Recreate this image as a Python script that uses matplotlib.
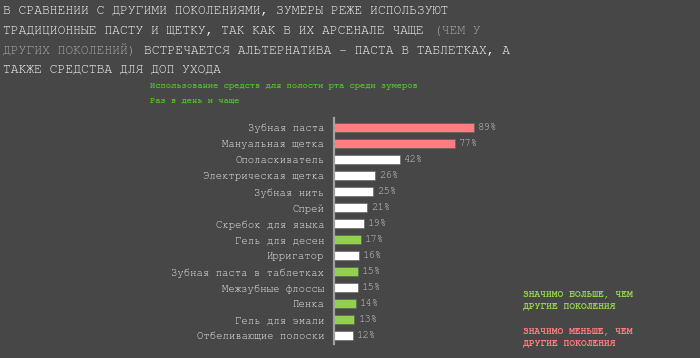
import matplotlib
matplotlib.use("Agg")
import matplotlib.pyplot as plt

# data
categories = [
    "Зубная паста", "Мануальная щетка", "Ополаскиватель", "Электрическая щетка",
    "Зубная нить", "Спрей", "Скребок для языка", "Гель для десен", "Ирригатор",
    "Зубная паста в таблетках", "Межзубные флоссы", "Пенка", "Гель для эмали",
    "Отбеливающие полоски",
]
values = [89, 77, 42, 26, 25, 21, 19, 17, 16, 15, 15, 14, 13, 12]
# "less" = significantly less than other generations, "more" = more, "" = no difference
signif = ["less", "less", "", "", "", "", "", "more", "", "more", "", "more", "more", ""]

# title lines as (text, colour key) segments
title_lines = [
    [("В СРАВНЕНИИ С ДРУГИМИ ПОКОЛЕНИЯМИ, ЗУМЕРЫ РЕЖЕ ИСПОЛЬЗУЮТ", "w")],
    [("ТРАДИЦИОННЫЕ ПАСТУ И ЩЕТКУ, ТАК КАК В ИХ АРСЕНАЛЕ ЧАЩЕ ", "w"), ("(ЧЕМ У", "g")],
    [("ДРУГИХ ПОКОЛЕНИЙ) ", "g"), ("ВСТРЕЧАЕТСЯ АЛЬТЕРНАТИВА – ПАСТА В ТАБЛЕТКАХ, А", "w")],
    [("ТАКЖЕ СРЕДСТВА ДЛЯ ДОП УХОДА", "w")],
]
subtitle = ["Использование средств для полости рта среди зумеров", "Раз в день и чаще"]
legend_more = "ЗНАЧИМО БОЛЬШЕ, ЧЕМ\nДРУГИЕ ПОКОЛЕНИЯ"
legend_less = "ЗНАЧИМО МЕНЬШЕ, ЧЕМ\nДРУГИЕ ПОКОЛЕНИЯ"

BG = "#474747"
RED = "#ff7c80"
GREEN = "#92d050"
colors = {"less": RED, "more": GREEN, "": "#ffffff"}
title_colors = {"w": "#f2f2f2", "g": "#a6a6a6"}

plt.rcParams["font.family"] = ["FreeMono", "Liberation Mono", "DejaVu Sans Mono"]

fig = plt.figure(figsize=(7, 3.58), dpi=100, facecolor=BG)

# title, monospace so every char is 0.6 em wide
title_size = 9.4
char_w = 0.6 * title_size / 72 * 100
for i, segs in enumerate(title_lines):
    y = 1 - (12 + i * 19.5) / 358
    n = 0
    for s, c in segs:
        fig.text((3 + n * char_w) / 700, y, s.rstrip(), color=title_colors[c],
                 fontsize=title_size, va="center", ha="left")
        n += len(s)

fig.text(150 / 700, 1 - 86 / 358, subtitle[0], color="#4dba2c", fontsize=6.3,
         va="center", fontweight="bold")
fig.text(150 / 700, 1 - 101 / 358, subtitle[1], color="#4dba2c", fontsize=6.3,
         va="center", fontweight="bold")

fig.text(523 / 700, 1 - 300 / 358, legend_more, color=GREEN, fontsize=6.9,
         va="center", linespacing=1.3, fontweight="bold")
fig.text(523 / 700, 1 - 337 / 358, legend_less, color=RED, fontsize=6.9,
         va="center", linespacing=1.3, fontweight="bold")

ax = fig.add_axes([334 / 700, 14 / 358, 200 / 700, (344 - 118) / 358])
ax.set_facecolor(BG)
ypos = list(range(len(categories)))
ax.barh(ypos, values, height=0.56, color=[colors[s] for s in signif],
        edgecolor="#5a5a5a", linewidth=0.4)
ax.set_ylim(len(categories) - 1 + 0.5, -0.6)
ax.set_xlim(0, 200 / 1.573)

for y, v in zip(ypos, values):
    ax.text(v + 2.5, y, f"{v}%", color="#c8c8c8", fontsize=7.7, va="center", ha="left")

ax.set_yticks(ypos)
ax.set_yticklabels(categories, color="#e6e6e6", fontsize=7.7)
ax.tick_params(axis="y", length=0, pad=7)
ax.set_xticks([])
for side in ["top", "right", "bottom"]:
    ax.spines[side].set_visible(False)
ax.spines["left"].set_color("#a0a0a0")
ax.spines["left"].set_linewidth(1.6)

fig.savefig("out.png", dpi=100, facecolor=BG)
